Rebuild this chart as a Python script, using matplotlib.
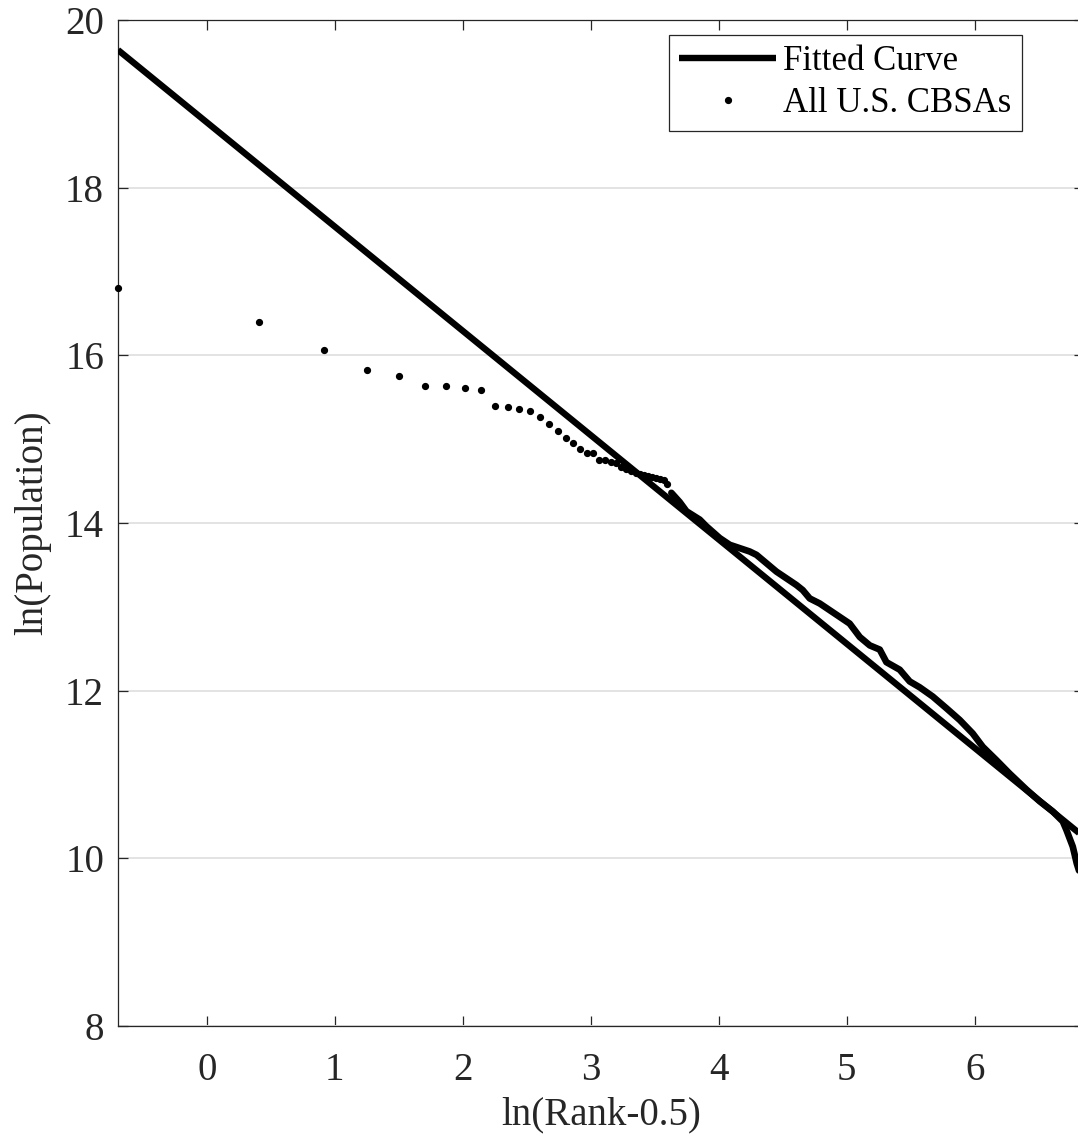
import numpy as np
import matplotlib
matplotlib.use("Agg")
import matplotlib.pyplot as plt

# ---- data ----
# largest CBSAs (distinct points), by rank
top_ranks = list(range(1, 38))
top_ln_pop = [16.80, 16.40, 16.06, 15.83, 15.75, 15.64, 15.63, 15.61, 15.59,
              15.39, 15.38, 15.36, 15.34, 15.27, 15.18, 15.10, 15.01, 14.95,
              14.88, 14.84, 14.84, 14.75, 14.75, 14.73, 14.71, 14.67, 14.65,
              14.62, 14.60, 14.59, 14.57, 14.56, 14.55, 14.54, 14.53, 14.51,
              14.47]

# remaining CBSAs: points so dense they merge into a band (read along the band)
dense_ln_rank = [3.630, 3.695, 3.748, 3.800, 3.852, 3.904, 4.008, 4.086, 4.164,
                 4.242, 4.295, 4.373, 4.451, 4.529, 4.607, 4.656, 4.711, 4.789,
                 4.867, 4.945, 5.023, 5.102, 5.180, 5.258, 5.310, 5.414, 5.492,
                 5.570, 5.672, 5.779, 5.883, 5.984, 6.063, 6.170, 6.273, 6.404,
                 6.508, 6.609, 6.688, 6.716, 6.766, 6.797, 6.830]
dense_ln_pop = [14.36, 14.25, 14.14, 14.09, 14.04, 13.96, 13.82, 13.74, 13.70,
                13.66, 13.62, 13.52, 13.42, 13.34, 13.26, 13.20, 13.10, 13.04,
                12.96, 12.88, 12.80, 12.64, 12.54, 12.49, 12.34, 12.25, 12.11,
                12.04, 11.93, 11.79, 11.65, 11.49, 11.33, 11.17, 11.01, 10.82,
                10.68, 10.56, 10.44, 10.34, 10.14, 9.94, 9.78]

# fitted curve parameters
fit_slope = -1.244
fit_intercept = 18.78

x_ticks = [0, 1, 2, 3, 4, 5, 6]
y_ticks = [8, 10, 12, 14, 16, 18, 20]

# ---- figure ----
plt.rcParams['font.family'] = ['Liberation Serif', 'DejaVu Serif']
txt_color = '#262626'

W, H = 1078, 1143
fig = plt.figure(figsize=(W / 100, H / 100), dpi=100)
ax_left, ax_right, ax_top, ax_bottom = 118, 1084, 20, 1026
ax = fig.add_axes([ax_left / W, 1 - ax_bottom / H,
                   (ax_right - ax_left) / W, (ax_bottom - ax_top) / H])

x_lo = np.log(0.5)
x_hi = x_lo + (ax_right - ax_left) / 128.0
ax.set_xlim(x_lo, x_hi)
ax.set_ylim(8, 20)

xf = np.array([x_lo, x_hi])
ax.plot(xf, fit_intercept + fit_slope * xf, color='black', lw=4.6,
        solid_capstyle='butt', label='Fitted Curve', zorder=3)

top_x = np.log(np.array(top_ranks) - 0.5)
ax.plot(top_x, top_ln_pop, linestyle='none', marker='o', ms=4.2,
        color='black', label='All U.S. CBSAs', zorder=4, clip_on=False)
ax.plot(dense_ln_rank, dense_ln_pop, color='black', lw=4.8,
        solid_joinstyle='round', solid_capstyle='round', zorder=4)

ax.set_xticks(x_ticks)
ax.set_yticks(y_ticks)
ax.tick_params(direction='in', length=7.5, width=0.9, colors=txt_color,
               labelsize=28, top=True, right=True)
ax.tick_params(axis='y', pad=10)
ax.tick_params(axis='x', pad=19)
ax.yaxis.grid(True, color='#e3e3e3', lw=1.4)
ax.set_axisbelow(True)
for s in ['left', 'bottom', 'top']:
    ax.spines[s].set_color(txt_color)
    ax.spines[s].set_linewidth(0.9)
ax.spines['right'].set_visible(False)

ax.set_xlabel('ln(Rank-0.5)', fontsize=28, color=txt_color, labelpad=5)
ax.set_ylabel('ln(Population)', fontsize=28, color=txt_color, labelpad=10)

leg = ax.legend(loc='upper right',
                bbox_to_anchor=((1022 - ax_left) / (ax_right - ax_left),
                                1 - 15 / (ax_bottom - ax_top)),
                borderaxespad=0, fontsize=25, frameon=True, fancybox=False,
                framealpha=1, edgecolor=txt_color, handlelength=2.8,
                handletextpad=0.2, labelspacing=0.25, borderpad=0.3,
                markerscale=1.0)
leg.get_frame().set_linewidth(0.9)

fig.savefig('out.png', dpi=100)
